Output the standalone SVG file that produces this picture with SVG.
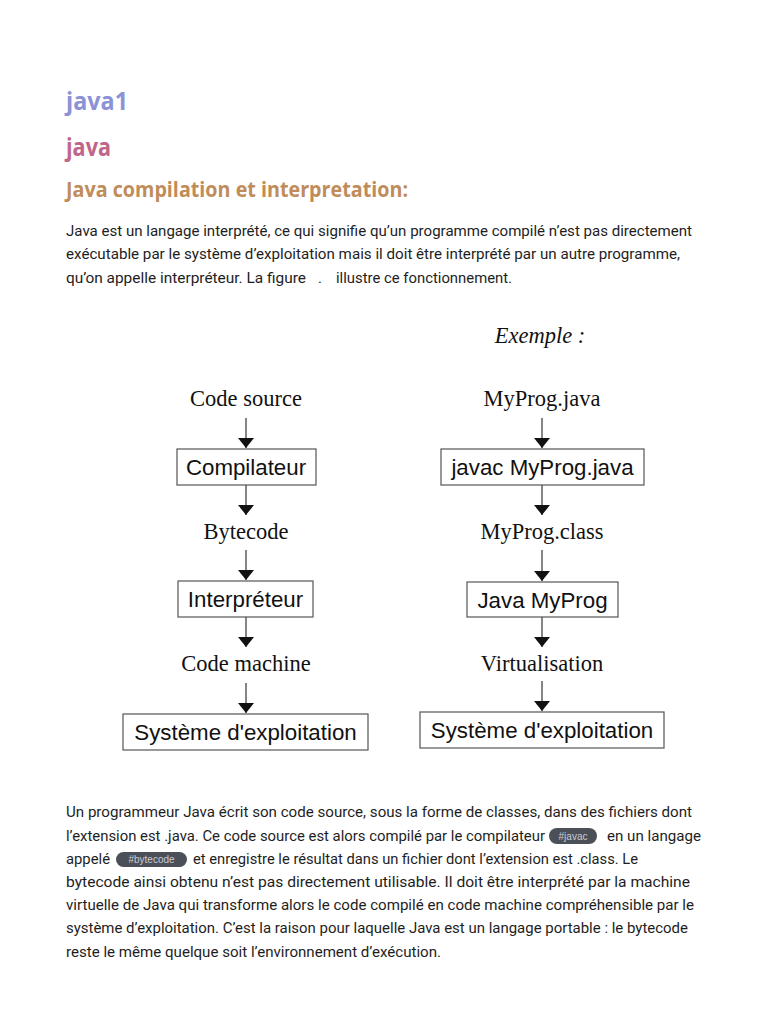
<svg xmlns="http://www.w3.org/2000/svg" width="768" height="1024" viewBox="0 0 768 1024">
<style>
.h{font-family:"Open Sans","Noto Sans",sans-serif;font-weight:700}
.b{font-family:Roboto,"Noto Sans",sans-serif;font-size:14.8px;fill:#1e1e1e}
.s{font-family:"Liberation Serif",serif;font-size:22.5px;fill:#111;text-anchor:middle}
.n{font-family:"Liberation Sans",Arial,sans-serif;font-size:22.3px;fill:#111;text-anchor:middle}
.box{fill:#fff;stroke:#555;stroke-width:1.2}
.ar{stroke:#222;stroke-width:1.1;fill:none}
.chip{fill:#4b4f58}
.ct{font-family:"Liberation Sans",sans-serif;font-size:10px;fill:#c8ccd4;text-anchor:middle}
</style>
<defs>
<marker id="ah" viewBox="0 0 10 16" refX="10" refY="8" markerWidth="10" markerHeight="16" markerUnits="userSpaceOnUse" orient="auto">
<path d="M0,0 L10,8 L0,16 z" fill="#111"/>
</marker>
</defs>
<rect width="768" height="1024" fill="#fff"/>
<text class="h" x="66" y="110" font-size="25" fill="#8b93d6" textLength="62" lengthAdjust="spacingAndGlyphs">java1</text>
<text class="h" x="66" y="156" font-size="25" fill="#c0668a" textLength="45" lengthAdjust="spacingAndGlyphs">java</text>
<text class="h" x="66" y="197" font-size="21" fill="#c08c5a" textLength="342" lengthAdjust="spacingAndGlyphs">Java compilation et interpretation:</text>

<text class="b" x="66" y="236" textLength="626" lengthAdjust="spacingAndGlyphs">Java est un langage interprété, ce qui signifie qu’un programme compilé n’est pas directement</text>
<text class="b" x="66" y="259" textLength="614" lengthAdjust="spacingAndGlyphs">exécutable par le système d’exploitation mais il doit être interprété par un autre programme,</text>
<text class="b" x="66" y="283" textLength="240" lengthAdjust="spacingAndGlyphs">qu’on appelle interpréteur. La figure</text>
<text class="b" x="318" y="283">.</text>
<text class="b" x="336" y="283" textLength="176" lengthAdjust="spacingAndGlyphs">illustre ce fonctionnement.</text>

<text x="540" y="343" font-family="Liberation Serif,serif" font-style="italic" font-size="22.5" fill="#111" text-anchor="middle">Exemple :</text>

<g id="connectors">
<line class="ar" x1="246" y1="418" x2="246" y2="448" marker-end="url(#ah)"/>
<line class="ar" x1="246" y1="485" x2="246" y2="515" marker-end="url(#ah)"/>
<line class="ar" x1="246" y1="550" x2="246" y2="580" marker-end="url(#ah)"/>
<line class="ar" x1="246" y1="617" x2="246" y2="647" marker-end="url(#ah)"/>
<line class="ar" x1="246" y1="683" x2="246" y2="713" marker-end="url(#ah)"/>
<line class="ar" x1="542" y1="418" x2="542" y2="448" marker-end="url(#ah)"/>
<line class="ar" x1="542" y1="485" x2="542" y2="515" marker-end="url(#ah)"/>
<line class="ar" x1="542" y1="550" x2="542" y2="581" marker-end="url(#ah)"/>
<line class="ar" x1="542" y1="617" x2="542" y2="647" marker-end="url(#ah)"/>
<line class="ar" x1="542" y1="681" x2="542" y2="711" marker-end="url(#ah)"/>
</g>

<g id="code-source"><text class="s" x="246" y="406">Code source</text></g>
<g id="compilateur"><rect class="box" x="177" y="449" width="139" height="36"/><text class="n" x="246" y="475">Compilateur</text></g>
<g id="bytecode"><text class="s" x="246" y="539">Bytecode</text></g>
<g id="interpreteur"><rect class="box" x="178" y="581" width="135" height="36"/><text class="n" x="245.5" y="607">Interpréteur</text></g>
<g id="code-machine"><text class="s" x="246" y="671">Code machine</text></g>
<g id="systeme1"><rect class="box" x="123" y="714" width="245" height="36"/><text class="n" x="245.5" y="740">Système d'exploitation</text></g>

<g id="myprog-java"><text class="s" x="542" y="406">MyProg.java</text></g>
<g id="javac"><rect class="box" x="441" y="449" width="203" height="36"/><text class="n" x="542.5" y="475">javac MyProg.java</text></g>
<g id="myprog-class"><text class="s" x="542" y="539">MyProg.class</text></g>
<g id="java-myprog"><rect class="box" x="467" y="582" width="151" height="35"/><text class="n" x="542.5" y="608">Java MyProg</text></g>
<g id="virtualisation"><text class="s" x="542" y="671">Virtualisation</text></g>
<g id="systeme2"><rect class="box" x="420" y="712" width="244" height="36"/><text class="n" x="542" y="738">Système d'exploitation</text></g>

<text class="b" x="66" y="817" textLength="626" lengthAdjust="spacingAndGlyphs">Un programmeur Java écrit son code source, sous la forme de classes, dans des fichiers dont</text>
<text class="b" x="66" y="841" textLength="479" lengthAdjust="spacingAndGlyphs">l’extension est .java. Ce code source est alors compilé par le compilateur</text>
<rect class="chip" x="549" y="828" width="48" height="16" rx="8"/>
<text class="ct" x="573" y="840">#javac</text>
<text class="b" x="607" y="841" textLength="94" lengthAdjust="spacingAndGlyphs">en un langage</text>
<text class="b" x="66" y="864" textLength="44" lengthAdjust="spacingAndGlyphs">appelé</text>
<rect class="chip" x="116" y="852" width="71" height="15" rx="7.5"/>
<text class="ct" x="151.5" y="863">#bytecode</text>
<text class="b" x="193" y="864" textLength="445" lengthAdjust="spacingAndGlyphs">et enregistre le résultat dans un fichier dont l’extension est .class. Le</text>
<text class="b" x="66" y="887" textLength="624" lengthAdjust="spacingAndGlyphs">bytecode ainsi obtenu n’est pas directement utilisable. Il doit être interprété par la machine</text>
<text class="b" x="66" y="910" textLength="628" lengthAdjust="spacingAndGlyphs">virtuelle de Java qui transforme alors le code compilé en code machine compréhensible par le</text>
<text class="b" x="66" y="933" textLength="622" lengthAdjust="spacingAndGlyphs">système d’exploitation. C’est la raison pour laquelle Java est un langage portable : le bytecode</text>
<text class="b" x="66" y="957" textLength="375" lengthAdjust="spacingAndGlyphs">reste le même quelque soit l’environnement d’exécution.</text>
</svg>
